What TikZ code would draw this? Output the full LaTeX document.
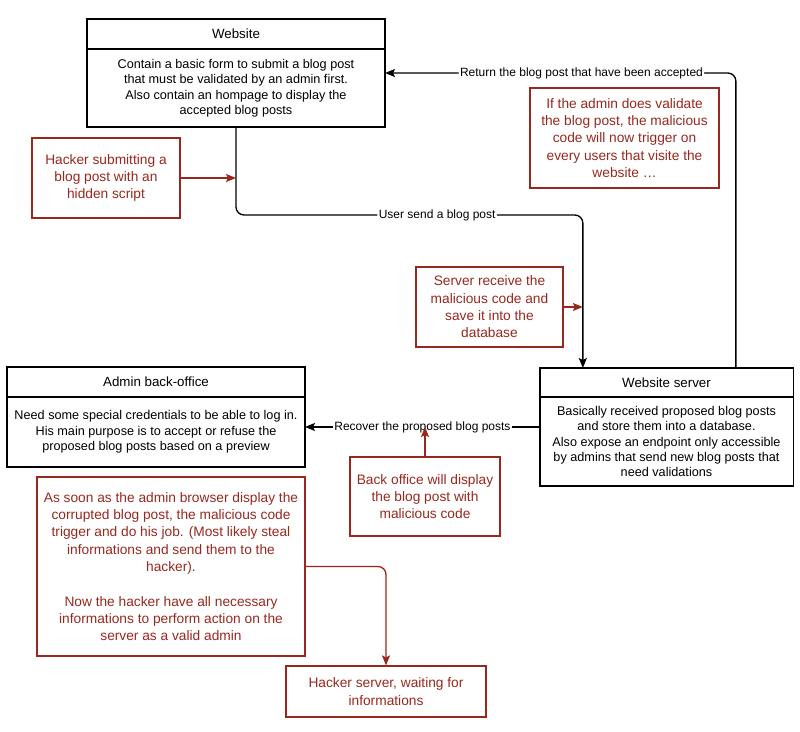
\documentclass[tikz,border=0pt]{standalone}
\usepackage{fontspec}
\setmainfont{Liberation Sans}
\usetikzlibrary{positioning,arrows.meta}
\definecolor{notered}{RGB}{150,40,30}

\begin{document}
\begin{tikzpicture}[x=0.75pt,y=-0.75pt,
    boxtitle/.style={draw,line width=1pt,outer sep=0pt,align=center,font=\fontsize{10}{12}\selectfont},
    boxbody/.style={draw,line width=1pt,outer sep=0pt,align=center,font=\fontsize{9.5}{11.6}\selectfont},
    note/.style={draw=notered,line width=0.9pt,text=notered,align=center,font=\fontsize{10.3}{13}\selectfont},
    link/.style={-{Stealth[length=7.5pt,width=6pt,inset=1.5pt]},line width=1pt,rounded corners=6pt},
    notelink/.style={-{Stealth[length=7.5pt,width=6pt,inset=1.5pt]},line width=1pt,draw=notered,fill=notered},
    linklabel/.style={fill=white,inner sep=1pt,font=\fontsize{9}{10}\selectfont}]
      \useasboundingbox (0,0) rectangle (800,732);

      \node[boxtitle,minimum width=223.5pt,minimum height=22.5pt] (site) at (236,34) {Website};
      \node[boxbody,minimum width=223.5pt,minimum height=58.5pt,below=0pt of site] (sitebody) {Contain a basic form to submit a blog post\\that must be validated by an admin first.\\Also contain an hompage to display the\\accepted blog posts};
      \node[boxtitle,minimum width=223.5pt,minimum height=22.5pt] (admin) at (156,382) {Admin back-office};
      \node[boxbody,minimum width=223.5pt,minimum height=52.5pt,below=0pt of admin] (adminbody) {Need some special credentials to be able to log in.\\His main purpose is to accept or refuse the\\proposed blog posts based on a preview};
      \node[boxtitle,minimum width=190pt,minimum height=21.75pt] (server) at (666.5,382.5) {Website server};
      \node[boxbody,minimum width=190pt,minimum height=66.75pt,below=0pt of server] (serverbody) {Basically received proposed blog posts\\and store them into a database.\\Also expose an endpoint only accessible\\by admins that send new blog posts that\\need validations};

      \node[note,minimum width=111pt,minimum height=60pt] (hacker) at (106,178) {Hacker submitting a\\blog post with an\\hidden script};
      \node[note,minimum width=141.75pt,minimum height=75pt] (validate) at (624.5,138) {If the admin does validate\\the blog post, the malicious\\code will now trigger on\\every users that visite the\\website \dots};
      \node[note,minimum width=110.25pt,minimum height=60pt] (receive) at (489.5,307) {Server receive the\\malicious code and\\save it into the\\database};
      \node[note,minimum width=112.5pt,minimum height=59.25pt] (backoffice) at (425,496.5) {Back office will display\\the blog post with\\malicious code};
      \node[note,minimum width=201pt,minimum height=134.25pt] (steal) at (171,566.5) {As soon as the admin browser display the\\corrupted blog post, the malicious code\\trigger and do his job. (Most likely steal\\informations and send them to the\\hacker).\\[13pt]Now the hacker have all necessary\\informations to perform action on the\\server as a valid admin};
      \node[note,minimum width=150pt,minimum height=38.25pt] (hackerserver) at (386,691.5) {Hacker server, waiting for\\informations};

      \coordinate (sendin) at ([xshift=32.25pt]server.north west);
      \coordinate (returnout) at ([xshift=147pt]server.north west);
      \coordinate (returnin) at ([yshift=11.25pt]sitebody.east);
      \coordinate (recoverout) at ([yshift=10.9pt]serverbody.west);

      \draw[link] (sitebody.south) -- ++(0,88) -| node[linklabel,pos=0.29] {User send a blog post} (sendin);
      \draw[link] (returnout) |- node[linklabel,pos=0.72] {Return the blog post that have been accepted} (returnin);
      \draw[link] (recoverout) -- node[linklabel] {Recover the proposed blog posts} (recoverout -| adminbody.east);

      \draw[notelink] (hacker.east) -- (hacker.east -| sitebody.south);
      \draw[notelink] (receive.east) -- (receive.east -| sendin);
      \draw[notelink] (backoffice.north) -- (backoffice.north |- recoverout);
      \draw[notelink,fill=none,rounded corners=6pt] (steal.east) -| (hackerserver.north);
    \end{tikzpicture}
\end{document}
